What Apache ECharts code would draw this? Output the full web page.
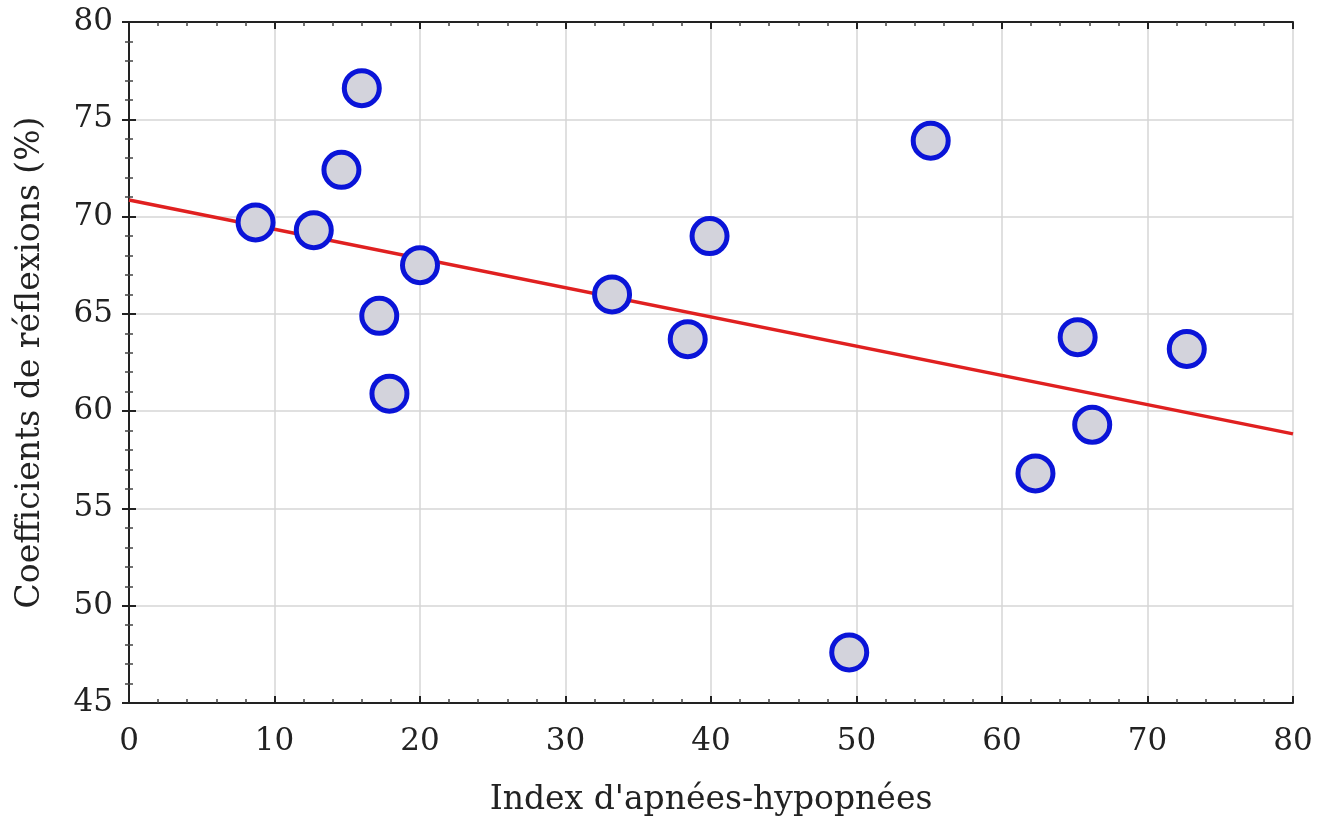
<!DOCTYPE html>
<html>
<head>
<meta charset="utf-8">
<script src="https://cdn.jsdelivr.net/npm/echarts@6/dist/echarts.min.js"></script>
<style>
html,body{margin:0;padding:0;background:#fff;}
#chart{width:1330px;height:827px;}
</style>
</head>
<body>
<div id="chart"></div>
<script>
const xTicks = [0, 10, 20, 30, 40, 50, 60, 70, 80];
const yTicks = [45, 50, 55, 60, 65, 70, 75, 80];
const ahiValues = [8.7, 12.7, 14.6, 16.0, 17.2, 17.9, 20.0, 33.2, 38.4, 39.9, 49.5, 55.1, 62.3, 65.2, 66.2, 72.7];
const reflValues = [69.7, 69.3, 72.4, 76.6, 64.9, 60.9, 67.5, 66.0, 63.7, 69.0, 47.6, 73.9, 56.8, 63.8, 59.3, 63.2];
const fitX = [0, 80];
const fitY = [70.85, 58.83];

const FONT = 'DejaVu Serif';
const chart = echarts.init(document.getElementById('chart'));

const frameLine = {show: true, lineStyle: {color: '#222', width: 2}};
const tickIn = {show: true, inside: true, length: 7, lineStyle: {color: '#222', width: 2}};
const minorIn = {show: true, splitNumber: 5, length: 4, lineStyle: {color: '#444', width: 1.5}};

chart.setOption({
  animation: false,
  backgroundColor: '#fff',
  grid: {left: 129, right: 37, top: 22, bottom: 124, containLabel: false},
  xAxis: [{
    type: 'value', min: xTicks[0], max: xTicks[xTicks.length - 1], interval: 10,
    position: 'bottom',
    name: "Index d'apnées-hypopnées", nameLocation: 'middle', nameGap: 81,
    nameTextStyle: {fontFamily: FONT, fontSize: 33, color: '#222'},
    axisLine: frameLine, axisTick: tickIn, minorTick: minorIn,
    axisLabel: {fontFamily: FONT, fontSize: 31, color: '#222', margin: 23},
    splitLine: {show: true, lineStyle: {color: '#d6d6d6', width: 1.5}}
  }, {
    type: 'value', min: xTicks[0], max: xTicks[xTicks.length - 1], interval: 10,
    position: 'top',
    axisLine: frameLine, axisTick: tickIn, minorTick: minorIn,
    axisLabel: {show: false}, splitLine: {show: false}
  }],
  yAxis: [{
    type: 'value', min: yTicks[0], max: yTicks[yTicks.length - 1], interval: 5,
    position: 'left',
    name: 'Coefficients de réflexions (%)', nameLocation: 'middle', nameGap: 82,
    nameTextStyle: {fontFamily: FONT, fontSize: 33, color: '#222'},
    axisLine: frameLine, axisTick: tickIn, minorTick: minorIn,
    axisLabel: {fontFamily: FONT, fontSize: 31, color: '#222', margin: 16},
    splitLine: {show: true, lineStyle: {color: '#d6d6d6', width: 1.5}}
  }, {
    type: 'value', min: yTicks[0], max: yTicks[yTicks.length - 1], interval: 5,
    position: 'right',
    axisLine: frameLine, axisTick: tickIn, minorTick: minorIn,
    axisLabel: {show: false}, splitLine: {show: false}
  }],
  series: [{
    type: 'line',
    data: fitX.map((x, i) => [x, fitY[i]]),
    showSymbol: false,
    lineStyle: {color: '#e02020', width: 3.5},
    z: 2
  }, {
    type: 'scatter',
    data: ahiValues.map((x, i) => [x, reflValues[i]]),
    symbol: 'circle',
    symbolSize: 35,
    itemStyle: {color: '#d3d3dc', borderColor: '#0a14d8', borderWidth: 5, opacity: 1},
    z: 3
  }]
});
</script>
</body>
</html>
